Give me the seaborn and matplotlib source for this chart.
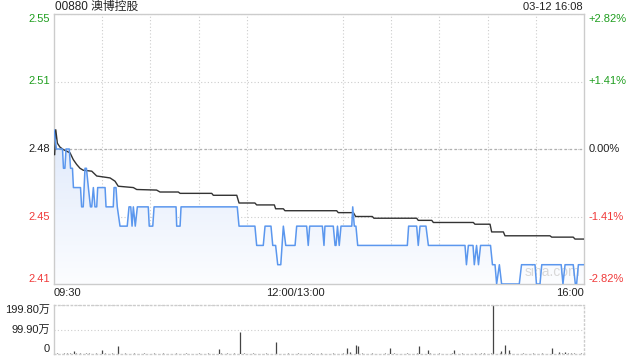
import numpy as np
import matplotlib
matplotlib.use("Agg")
import matplotlib.pyplot as plt
from matplotlib.colors import LinearSegmentedColormap
import seaborn as sns

# ===== DATA (minutes since 09:30, lunch break removed) =====
price_min = [0, 1.5, 5.3, 5.9, 6.8, 7.5, 9.5, 10.3, 11.5, 12.1, 16.5, 17.2, 18.2, 19.3, 20.2,
             21.4, 22.7, 23.5, 24.5, 25.5, 26.6, 27.2, 31.8, 32.4, 36.9, 37.4, 38.6, 39.4,
             41.1, 45.6, 46.7, 47.8, 48.6, 49.4, 50.6, 51.9, 58.7, 59.3, 61.5, 62.3, 76.0,
             76.4, 78.5, 79.1, 114.1, 115.2, 125.1, 126.2, 130.3, 131.4, 135.1, 136.2, 138.0,
             139.3, 141.2, 142.8, 144.3, 150.1, 151.1, 157.3, 158.3, 159.2, 167.1, 168.1,
             168.7, 173.9, 175.0, 175.6, 176.5, 177.6, 178.7, 185.4, 186.0, 187.0, 188.0,
             189.1, 220.0, 220.8, 225.8, 226.8, 227.9, 231.6, 233.1, 255.9, 256.8, 258.0,
             260.9, 261.7, 263.1, 264.3, 265.6, 271.8, 273.0, 274.6, 275.6, 277.3, 278.7,
             289.7, 291.1, 299.5, 300.4, 302.6, 303.7, 315.8, 316.9, 318.2, 323.3, 324.6,
             325.4, 326.5, 330.0]
price = [2.49, 2.48, 2.48, 2.47, 2.47, 2.48, 2.48, 2.47, 2.47, 2.46, 2.46, 2.45, 2.45, 2.47, 2.47,
         2.46, 2.45, 2.45, 2.46, 2.45, 2.45, 2.46, 2.46, 2.45, 2.45, 2.46, 2.46, 2.45,
         2.44, 2.44, 2.45, 2.45, 2.44, 2.45, 2.44, 2.45, 2.45, 2.44, 2.44, 2.45, 2.45,
         2.44, 2.44, 2.45, 2.45, 2.44, 2.44, 2.43, 2.43, 2.44, 2.44, 2.43, 2.43,
         2.42, 2.42, 2.44, 2.43, 2.43, 2.44, 2.44, 2.43, 2.44, 2.44, 2.43,
         2.44, 2.44, 2.43, 2.43, 2.44, 2.43, 2.44, 2.44, 2.45, 2.44, 2.44,
         2.43, 2.43, 2.44, 2.44, 2.43, 2.44, 2.44, 2.43, 2.43, 2.42, 2.43,
         2.43, 2.42, 2.43, 2.42, 2.43, 2.43, 2.42, 2.42, 2.41, 2.42, 2.41,
         2.41, 2.42, 2.42, 2.41, 2.41, 2.42, 2.42, 2.41, 2.42, 2.42, 2.41,
         2.41, 2.42, 2.42]

avg_min = [0.4, 1.1, 2.1, 3.7, 5.8, 10.0, 12.0, 14.1, 16.2, 18.2, 23.5, 26.6, 34.9, 38.0, 40.0,
           49.4, 51.5, 63.9, 66.0, 77.4, 78.5, 98.2, 99.2, 113.8, 115.2, 125.1, 126.2, 137.2,
           138.0, 142.8, 143.8, 176.0, 177.0, 186.4, 187.8, 198.2, 199.2, 225.8, 226.8, 235.2,
           236.2, 261.1, 262.1, 271.5, 272.5, 279.8, 280.8, 308.8, 309.9, 323.3, 324.4, 330.0]
avg_price = [2.477, 2.490, 2.483, 2.481, 2.4797, 2.478, 2.4745, 2.472, 2.470, 2.469, 2.4685,
             2.466, 2.465, 2.4633, 2.4607, 2.460, 2.459, 2.4587, 2.4577, 2.4577, 2.457, 2.457,
             2.456, 2.456, 2.452, 2.452, 2.451, 2.451, 2.449, 2.449, 2.448, 2.448, 2.447,
             2.447, 2.445, 2.445, 2.4441, 2.4441, 2.443, 2.443, 2.4419, 2.4419, 2.441, 2.441,
             2.437, 2.437, 2.435, 2.435, 2.4343, 2.4343, 2.4333, 2.4333]

# small background volume every 2 minutes (in 万 shares)
vol_small = [3, 4, 2, 5, 3, 4, 2, 3, 5, 2, 3, 4, 2, 3, 2, 4, 3, 2, 3, 2, 4, 2, 3, 2, 2,
             3, 2, 2, 3, 2, 2, 3, 2, 2, 3, 2, 2, 2, 3, 2, 2, 3, 2, 2, 2, 3, 2, 2, 3, 2,
             2, 2, 3, 2, 4, 2, 3, 2, 2, 3, 2, 2, 3, 2, 2, 2, 3, 2, 2, 3, 2, 2, 2, 3, 2,
             2, 3, 2, 2, 2, 3, 2, 2, 3, 2, 2, 2, 3, 2, 2, 3, 2, 2, 2, 3, 2, 3, 2, 2, 3,
             2, 2, 2, 3, 2, 2, 3, 2, 2, 2, 3, 2, 2, 3, 2, 2, 2, 3, 2, 2, 3, 2, 2, 2, 3,
             2, 2, 3, 2, 2, 2, 3, 2, 4, 3, 2, 3, 2, 2, 3, 2, 2, 3, 2, 2, 2, 3, 2, 2, 3,
             2, 2, 3, 2, 2, 3, 2, 2, 3, 2, 3, 4, 3, 2, 3, 2]
spike_min = [12.7, 29.8, 39.9, 102.9, 115.6, 138.2, 182.4, 184.0, 187.8, 189.1, 209.4, 227.2,
             232.7, 249.0, 273.2, 278.3, 280.8, 283.6, 310.1, 314.4, 318.2]
spike_vol = [12, 15, 32.6, 19, 88, 49, 23, 10, 36.7, 34, 23, 32.6,
             16.3, 16.3, 199.8, 12, 36.7, 16.3, 23, 7, 8]

prev_close = 2.48
y_ticks = [2.41, 2.445, 2.48, 2.515, 2.55]
y_labels = ["2.41", "2.45", "2.48", "2.51", "2.55"]
pct_labels = ["-2.82%", "-1.41%", "0.00%", "+1.41%", "+2.82%"]
x_ticks = [0, 150, 330]
x_labels = ["09:30", "12:00/13:00", "16:00"]
vol_ticks = [0, 99.9, 199.8]
vol_labels = ["0", "99.90万", "199.80万"]

# ===== STYLE =====
sns.set_theme(style="white")
plt.rcParams["font.family"] = ["Liberation Sans", "Noto Sans CJK SC", "DejaVu Sans"]

GREEN = "#1f9e1f"
RED = "#f03a3a"
BLUE = "#5b97ee"
GRID = "#cdcdcd"
level_colors = [RED, RED, "#222222", GREEN, GREEN]
edge_va = ["bottom", "center", "center", "center", "top"]

fig = plt.figure(figsize=(6.4, 3.6), dpi=100)
ax = fig.add_axes([54 / 640, 1 - 284 / 360, 530 / 640, 270 / 360])
axv = fig.add_axes([54 / 640, 1 - 354 / 360, 530 / 640, 49 / 360])

# ===== PRICE PANEL =====
ax.set_xlim(0, 330)
ax.set_ylim(2.41, 2.55)

# gradient fill under the price line
poly = ax.fill_between(price_min, price, 2.41, color="none", lw=0)
cmap = LinearSegmentedColormap.from_list("fade", ["#fcfdff", "#dfe9fb"])
grad = np.linspace(0, 1, 256).reshape(-1, 1)
im = ax.imshow(grad, extent=[0, 330, 2.41, 2.49], origin="lower", aspect="auto",
               cmap=cmap, zorder=1)
im.set_clip_path(poly.get_paths()[0], transform=ax.transData)

sns.lineplot(x=avg_min, y=avg_price, ax=ax, color="#333333", lw=1.0,
             estimator=None, sort=False, zorder=3)
sns.lineplot(x=price_min, y=price, ax=ax, color=BLUE, lw=1.1,
             estimator=None, sort=False, zorder=4)

ax.set_xticks(x_ticks)
ax.set_xticklabels(x_labels, fontsize=8, color="#222222")
for lbl, ha in zip(ax.get_xticklabels(), ["left", "center", "right"]):
    lbl.set_ha(ha)
ax.set_xticks(np.arange(30, 330, 30), minor=True)
ax.tick_params(axis="x", which="both", length=0, pad=3)

ax.set_yticks(y_ticks)
ax.set_yticklabels(y_labels, fontsize=8)
for lbl, c, va in zip(ax.get_yticklabels(), level_colors, edge_va):
    lbl.set_color(c)
    lbl.set_va(va)
ax.tick_params(axis="y", length=0, pad=3)

# percent change labels on the right side
for v, txt, c, va in zip(y_ticks, pct_labels, level_colors, edge_va):
    ax.text(1.008, v, txt, transform=ax.get_yaxis_transform(), fontsize=8,
            color=c, ha="left", va=va)

ax.grid(which="minor", axis="x", ls=(0, (1, 2)), color=GRID, lw=0.8)
ax.grid(which="major", axis="y", ls=(0, (1, 2)), color=GRID, lw=0.8)
ax.axhline(prev_close, ls=(0, (2, 2)), color="#b0b0b0", lw=0.9, zorder=2)

for s in ax.spines.values():
    s.set_color("#cccccc")
    s.set_linewidth(1)

# faint watermark, bottom right of the price panel
ax.text(0.94, 0.02, "sina.com", transform=ax.transAxes, fontsize=10,
        color="#d8d8d8", ha="center", va="bottom", zorder=2)

# ===== VOLUME PANEL =====
small_x = np.arange(len(vol_small)) * 2
axv.vlines(small_x, 0, np.array(vol_small) * 10000, color="#555555", lw=0.8)
axv.vlines(spike_min, 0, np.array(spike_vol) * 10000, color="#444444", lw=0.9)
axv.set_xlim(0, 330)
axv.set_ylim(0, 1998000)
axv.set_xticks([])
axv.set_yticks([v * 10000 for v in vol_ticks])
axv.set_yticklabels(vol_labels, fontsize=8, color="#222222")
for lbl, va in zip(axv.get_yticklabels(), ["bottom", "center", "top"]):
    lbl.set_va(va)
axv.tick_params(axis="y", length=0, pad=3)
axv.grid(which="major", axis="y", ls=(0, (1, 2)), color=GRID, lw=0.8)
for name, s in axv.spines.items():
    s.set_color("#cccccc")
    s.set_linewidth(1)
for name in ["top", "right", "bottom"]:
    axv.spines[name].set_linestyle((0, (1, 2)))

# ===== HEADER =====
fig.text(55 / 640, 1 - 7 / 360, "00880 澳博控股", fontsize=8.5, color="#222222",
         ha="left", va="center")
fig.text(583 / 640, 1 - 7 / 360, "03-12 16:08", fontsize=8, color="#222222",
         ha="right", va="center")

fig.savefig("out.png", dpi=100)
plt.close(fig)
